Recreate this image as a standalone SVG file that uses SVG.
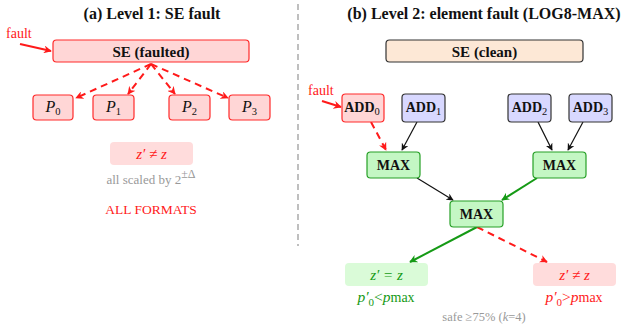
<svg xmlns="http://www.w3.org/2000/svg" width="623" height="331" viewBox="0 0 623 331">
  <style>
    text { font-family: "Liberation Serif", "DejaVu Serif", serif; }
    .title { font-size: 16px; font-weight: bold; fill: #111; text-anchor: middle; }
    .lbl { font-size: 15px; font-weight: bold; fill: #111; text-anchor: middle; }
    .plbl { font-size: 16px; font-style: italic; fill: #111; text-anchor: middle; }
    .small { font-size: 14px; font-weight: bold; fill: #111; text-anchor: middle; }
    .it { font-style: italic; }
    .sub { font-size: 10.5px; font-weight: normal; font-style: normal; }
    .red { fill: #ff1a1a; }
    .green { fill: #159a15; }
    .gray { fill: #999; }
    .nfault { fill: #ffd6d6; stroke: #ff2a2a; stroke-width: 1.2; }
    .nclean { fill: #fde8d6; stroke: #333; stroke-width: 1.2; }
    .nadd { fill: #d8d8ff; stroke: #333; stroke-width: 1.2; }
    .nmax { fill: #c4f7c4; stroke: #26a026; stroke-width: 1.2; }
    .rbad { fill: #ffdcdc; }
    .rok { fill: #dafbd8; }
    .e-red { stroke: #ff1a1a; stroke-width: 2; fill: none; }
    .e-dash { stroke: #ff1a1a; stroke-width: 2; fill: none; stroke-dasharray: 7 5; }
    .e-blk { stroke: #111; stroke-width: 1.2; fill: none; }
    .e-grn { stroke: #159a15; stroke-width: 2; fill: none; }
  </style>
  <defs>
    <marker id="ah-red" viewBox="0 0 10 10" refX="9" refY="5" markerWidth="4" markerHeight="4" orient="auto" markerUnits="strokeWidth">
      <path d="M0,0 L10,5 L0,10 L3,5 z" fill="#ff1a1a"/>
    </marker>
    <marker id="ah-blk" viewBox="0 0 10 10" refX="9" refY="5" markerWidth="6" markerHeight="6" orient="auto" markerUnits="strokeWidth">
      <path d="M0,0 L10,5 L0,10 L3,5 z" fill="#111"/>
    </marker>
    <marker id="ah-grn" viewBox="0 0 10 10" refX="9" refY="5" markerWidth="4" markerHeight="4" orient="auto" markerUnits="strokeWidth">
      <path d="M0,0 L10,5 L0,10 L3,5 z" fill="#159a15"/>
    </marker>
  </defs>

  <rect width="623" height="331" fill="#fff"/>

  <!-- panel titles -->
  <text class="title" x="152" y="19">(a) Level 1: SE fault</text>
  <text class="title" x="484" y="19">(b) Level 2: element fault (LOG8-MAX)</text>

  <!-- panel divider -->
  <line x1="298" y1="4" x2="298" y2="246" stroke="#aaa" stroke-width="1.5" stroke-dasharray="6 4"/>

  <!-- connectors -->
  <g id="connectors">
    <line class="e-red" x1="20" y1="44" x2="51" y2="51" marker-end="url(#ah-red)"/>
    <line class="e-dash" x1="151" y1="64" x2="76" y2="98" marker-end="url(#ah-red)"/>
    <line class="e-dash" x1="151" y1="64" x2="128" y2="94" marker-end="url(#ah-red)"/>
    <line class="e-dash" x1="151" y1="64" x2="175" y2="94" marker-end="url(#ah-red)"/>
    <line class="e-dash" x1="151" y1="64" x2="228" y2="98" marker-end="url(#ah-red)"/>

    <line class="e-red" x1="322" y1="101" x2="341" y2="107" marker-end="url(#ah-red)"/>
    <line class="e-dash" x1="371" y1="122" x2="386" y2="150" marker-end="url(#ah-red)"/>
    <line class="e-blk" x1="417" y1="122" x2="402" y2="150" marker-end="url(#ah-blk)"/>
    <line class="e-blk" x1="538" y1="122" x2="552" y2="150" marker-end="url(#ah-blk)"/>
    <line class="e-blk" x1="583" y1="122" x2="568" y2="150" marker-end="url(#ah-blk)"/>
    <line class="e-blk" x1="417" y1="178" x2="453" y2="200" marker-end="url(#ah-blk)"/>
    <line class="e-grn" x1="537" y1="178" x2="502" y2="200" marker-end="url(#ah-grn)"/>
    <line class="e-grn" x1="477" y1="227" x2="410" y2="262" marker-end="url(#ah-grn)"/>
    <line class="e-dash" x1="477" y1="227" x2="547" y2="262" marker-end="url(#ah-red)"/>
  </g>

  <!-- Level 1 -->
  <text class="red" x="6" y="38" font-size="14">fault</text>

  <g id="se-faulted">
    <rect class="nfault" x="53" y="40" width="196" height="22" rx="3.5"/>
    <text class="lbl" x="151" y="56.5">SE (faulted)</text>
  </g>
  <g id="p0">
    <rect class="nfault" x="33" y="95" width="40" height="25" rx="3.5"/>
    <text class="plbl" x="53" y="112">P<tspan class="sub" dy="3">0</tspan></text>
  </g>
  <g id="p1">
    <rect class="nfault" x="93" y="95" width="41" height="25" rx="3.5"/>
    <text class="plbl" x="113.5" y="112">P<tspan class="sub" dy="3">1</tspan></text>
  </g>
  <g id="p2">
    <rect class="nfault" x="169" y="95" width="41" height="25" rx="3.5"/>
    <text class="plbl" x="189.5" y="112">P<tspan class="sub" dy="3">2</tspan></text>
  </g>
  <g id="p3">
    <rect class="nfault" x="229" y="95" width="41" height="25" rx="3.5"/>
    <text class="plbl" x="249.5" y="112">P<tspan class="sub" dy="3">3</tspan></text>
  </g>

  <g id="result-a">
    <rect class="rbad" x="110" y="142" width="83" height="23" rx="4"/>
    <text class="red it" x="151.5" y="159" font-size="15" text-anchor="middle">z′ ≠ z</text>
  </g>
  <text class="gray" x="151" y="184" font-size="13" text-anchor="middle">all scaled by 2<tspan dy="-6" font-size="12">±Δ</tspan></text>
  <text class="red" x="151" y="214" font-size="13.5" text-anchor="middle">ALL FORMATS</text>

  <!-- Level 2 -->
  <g id="se-clean">
    <rect class="nclean" x="386" y="40" width="197" height="22" rx="3.5"/>
    <text class="lbl" x="484.5" y="56.5">SE (clean)</text>
  </g>

  <text class="red" x="308" y="95" font-size="14">fault</text>

  <g id="add0">
    <rect class="nfault" x="342" y="94" width="42" height="28" rx="3.5"/>
    <text class="small" x="362" y="111.5">ADD<tspan class="sub" dy="3">0</tspan></text>
  </g>
  <g id="add1">
    <rect class="nadd" x="402" y="94" width="43" height="28" rx="3.5"/>
    <text class="small" x="423.5" y="111.5">ADD<tspan class="sub" dy="3">1</tspan></text>
  </g>
  <g id="add2">
    <rect class="nadd" x="508" y="94" width="43" height="28" rx="3.5"/>
    <text class="small" x="529.5" y="111.5">ADD<tspan class="sub" dy="3">2</tspan></text>
  </g>
  <g id="add3">
    <rect class="nadd" x="569" y="94" width="43" height="28" rx="3.5"/>
    <text class="small" x="590.5" y="111.5">ADD<tspan class="sub" dy="3">3</tspan></text>
  </g>

  <g id="max-left">
    <rect class="nmax" x="367" y="152" width="53" height="26" rx="3.5"/>
    <text class="small" x="393.5" y="170">MAX</text>
  </g>
  <g id="max-right">
    <rect class="nmax" x="533" y="152" width="53" height="26" rx="3.5"/>
    <text class="small" x="559.5" y="170">MAX</text>
  </g>
  <g id="max-root">
    <rect class="nmax" x="450" y="201" width="53" height="26" rx="3.5"/>
    <text class="small" x="476.5" y="219">MAX</text>
  </g>

  <g id="result-safe">
    <rect class="rok" x="345" y="263" width="83" height="23" rx="4"/>
    <text class="green it" x="386.5" y="280" font-size="15" text-anchor="middle">z′ = z</text>
  </g>
  <g id="result-bad">
    <rect class="rbad" x="533" y="263" width="83" height="23" rx="4"/>
    <text class="red it" x="574.5" y="280" font-size="15" text-anchor="middle">z′ ≠ z</text>
  </g>

  <text class="green" x="386" y="302" font-size="15.5" text-anchor="middle"><tspan class="it">p′</tspan><tspan font-size="11" dy="4">0</tspan><tspan dy="-4">&lt;</tspan><tspan class="it">p</tspan><tspan font-size="14">max</tspan></text>
  <text class="red" x="574" y="302" font-size="15.5" text-anchor="middle"><tspan class="it">p′</tspan><tspan font-size="11" dy="4">0</tspan><tspan dy="-4">&gt;</tspan><tspan class="it">p</tspan><tspan font-size="14">max</tspan></text>
  <text class="gray" x="484" y="321" font-size="12.5" text-anchor="middle">safe ≥75% (<tspan class="it">k</tspan>=4)</text>
</svg>
